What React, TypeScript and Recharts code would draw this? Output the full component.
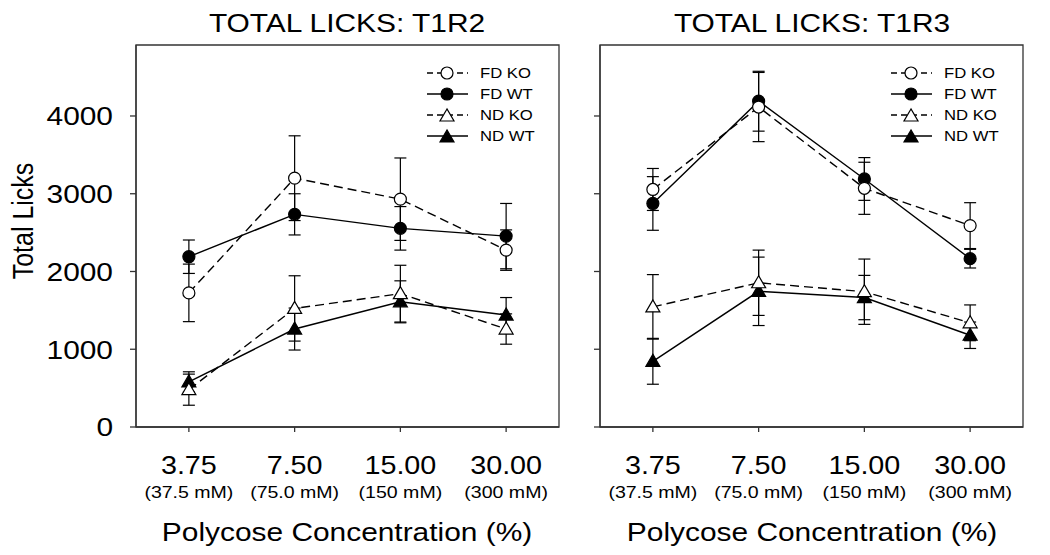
import React from 'react';
import { LineChart, Line, XAxis, YAxis, ErrorBar, ReferenceArea } from 'recharts';

// x categories (polycose %, with molarity underneath)
const CONCENTRATIONS = ['3.75', '7.50', '15.00', '30.00'];
const MOLARITY = ['(37.5 mM)', '(75.0 mM)', '(150 mM)', '(300 mM)'];
const Y_TICKS = [0, 1000, 2000, 3000, 4000];
const Y_MAX = 4913;

// T1R2 panel: means and SEM
const T1R2_FD_KO = [1725, 3200, 2930, 2275];
const T1R2_FD_KO_SEM = [370, 545, 530, 260];
const T1R2_FD_WT = [2190, 2735, 2555, 2455];
const T1R2_FD_WT_SEM = [215, 265, 280, 420];
const T1R2_ND_KO = [480, 1525, 1715, 1260];
const T1R2_ND_KO_SEM = [200, 420, 365, 195];
const T1R2_ND_WT = [580, 1260, 1610, 1440];
const T1R2_ND_WT_SEM = [130, 270, 270, 225];

// T1R3 panel
const T1R3_FD_KO = [3055, 4115, 3070, 2590];
const T1R3_FD_KO_SEM = [270, 445, 335, 295];
const T1R3_FD_WT = [2875, 4190, 3190, 2165];
const T1R3_FD_WT_SEM = [345, 385, 275, 120];
const T1R3_ND_KO = [1545, 1855, 1740, 1340];
const T1R3_ND_KO_SEM = [415, 420, 420, 230];
const T1R3_ND_WT = [845, 1745, 1665, 1180];
const T1R3_ND_WT_SEM = [295, 440, 285, 170];

const LEGEND = ['FD KO', 'FD WT', 'ND KO', 'ND WT'];

const FONT = '"Liberation Sans", Arial, sans-serif';
const SX = 1.15; // source figure is a bit stretched sideways
const AXIS = '#333';

function buildRows(fdKo: number[], fdKoE: number[], fdWt: number[], fdWtE: number[],
  ndKo: number[], ndKoE: number[], ndWt: number[], ndWtE: number[]) {
  return CONCENTRATIONS.map((_, i) => ({
    pos: i + 1,
    fdKo: fdKo[i], fdKoErr: fdKoE[i],
    fdWt: fdWt[i], fdWtErr: fdWtE[i],
    ndKo: ndKo[i], ndKoErr: ndKoE[i],
    ndWt: ndWt[i], ndWtErr: ndWtE[i],
  }));
}

const t1r2Rows = buildRows(T1R2_FD_KO, T1R2_FD_KO_SEM, T1R2_FD_WT, T1R2_FD_WT_SEM,
  T1R2_ND_KO, T1R2_ND_KO_SEM, T1R2_ND_WT, T1R2_ND_WT_SEM);
const t1r3Rows = buildRows(T1R3_FD_KO, T1R3_FD_KO_SEM, T1R3_FD_WT, T1R3_FD_WT_SEM,
  T1R3_ND_KO, T1R3_ND_KO_SEM, T1R3_ND_WT, T1R3_ND_WT_SEM);

function Circle({ cx, cy, fill }: any) {
  return <circle cx={cx} cy={cy} r={6} fill={fill} stroke="#000" strokeWidth={1.2} />;
}

function Triangle({ cx, cy, fill }: any) {
  const pts = `${cx},${cy - 7} ${cx - 7},${cy + 5} ${cx + 7},${cy + 5}`;
  return <polygon points={pts} fill={fill} stroke="#000" strokeWidth={1.2} />;
}

const circleDot = (fill: string) => (p: any) =>
  <Circle key={`c-${fill}-${p.index}`} cx={p.cx} cy={p.cy} fill={fill} />;
const triangleDot = (fill: string) => (p: any) =>
  <Triangle key={`t-${fill}-${p.index}`} cx={p.cx} cy={p.cy} fill={fill} />;

function XTick({ x, y, payload }: any) {
  const i = payload.value - 1;
  return (
    <g>
      <text transform={`translate(${x},${y + 42}) scale(${SX},1)`} textAnchor="middle"
        fontSize={25} fontFamily={FONT} fill="#000">{CONCENTRATIONS[i]}</text>
      <text transform={`translate(${x},${y + 66}) scale(${SX},1)`} textAnchor="middle"
        fontSize={17} fontFamily={FONT} fill="#000">{MOLARITY[i]}</text>
    </g>
  );
}

function YTick({ x, y, payload }: any) {
  return (
    <text transform={`translate(${x},${y}) scale(${SX},1)`} textAnchor="end" dy="0.36em"
      fontSize={26} fontFamily={FONT} fill="#000">{payload.value}</text>
  );
}

const NoTick = () => <g />;

function Panel({ left, width, yWidth, right, rows, labels }: any) {
  return (
    <div style={{ position: 'absolute', left, top: 0 }}>
      <LineChart width={width} height={555} data={rows}
        margin={{ top: 45, right, bottom: 0, left: 0 }}>
        <XAxis dataKey="pos" type="number" domain={[0.5, 4.5]} ticks={[1, 2, 3, 4]}
          height={128} tickSize={5} tickMargin={0} allowDataOverflow
          axisLine={{ stroke: AXIS, strokeWidth: 1.3 }} tickLine={{ stroke: AXIS, strokeWidth: 1.3 }}
          tick={<XTick />} />
        <YAxis type="number" domain={[0, Y_MAX]} ticks={Y_TICKS} width={yWidth}
          tickSize={6} tickMargin={17} allowDataOverflow
          axisLine={{ stroke: AXIS, strokeWidth: 1.3 }} tickLine={{ stroke: AXIS, strokeWidth: 1.3 }}
          tick={labels ? <YTick /> : <NoTick />} />
        <ReferenceArea x1={0.5} x2={4.5} y1={0} y2={Y_MAX} fill="none" fillOpacity={0}
          stroke={AXIS} strokeWidth={1.3} ifOverflow="visible" />
        <Line dataKey="ndWt" stroke="#000" strokeWidth={1.4} isAnimationActive={false}
          dot={triangleDot('#000')}>
          <ErrorBar dataKey="ndWtErr" direction="y" width={6} stroke="#000" strokeWidth={1.2} />
        </Line>
        <Line dataKey="ndKo" stroke="#000" strokeWidth={1.4} strokeDasharray="9 5"
          isAnimationActive={false} dot={triangleDot('#fff')}>
          <ErrorBar dataKey="ndKoErr" direction="y" width={6} stroke="#000" strokeWidth={1.2} />
        </Line>
        <Line dataKey="fdWt" stroke="#000" strokeWidth={1.4} isAnimationActive={false}
          dot={circleDot('#000')}>
          <ErrorBar dataKey="fdWtErr" direction="y" width={6} stroke="#000" strokeWidth={1.2} />
        </Line>
        <Line dataKey="fdKo" stroke="#000" strokeWidth={1.4} strokeDasharray="9 5"
          isAnimationActive={false} dot={circleDot('#fff')}>
          <ErrorBar dataKey="fdKoErr" direction="y" width={6} stroke="#000" strokeWidth={1.2} />
        </Line>
      </LineChart>
    </div>
  );
}

function LegendBlock({ x0 }: { x0: number }) {
  return (
    <g>
      {LEGEND.map((name, i) => {
        const cy = 73 + i * 21;
        const dashed = name.endsWith('KO');
        const fill = dashed ? '#fff' : '#000';
        const mx = x0 + 20;
        return (
          <g key={name}>
            <line x1={x0} x2={x0 + 41} y1={cy} y2={cy} stroke="#000" strokeWidth={1.4}
              strokeDasharray={dashed ? '6 4' : undefined} />
            {i < 2 ? <Circle cx={mx} cy={cy} fill={fill} /> : <Triangle cx={mx} cy={cy + 1} fill={fill} />}
            <text transform={`translate(${x0 + 53},${cy + 5}) scale(${SX},1)`} fontSize={14.5}
              fontFamily={FONT} fill="#000">{name}</text>
          </g>
        );
      })}
    </g>
  );
}

function Overlay() {
  const title = (x: number, s: string) => (
    <text transform={`translate(${x},32) scale(${SX},1)`} textAnchor="middle" fontSize={26}
      fontFamily={FONT} fill="#000">{s}</text>
  );
  const xTitle = (x: number) => (
    <text transform={`translate(${x},541) scale(${SX},1)`} textAnchor="middle" fontSize={26}
      fontFamily={FONT} fill="#000">Polycose Concentration (%)</text>
  );
  return (
    <svg width={1050} height={555} style={{ position: 'absolute', left: 0, top: 0, pointerEvents: 'none' }}>
      {title(347, 'TOTAL LICKS: T1R2')}
      {title(812, 'TOTAL LICKS: T1R3')}
      <text transform={`translate(33,221) rotate(-90) scale(1,${SX})`} textAnchor="middle" fontSize={25}
        fontFamily={FONT} fill="#000">Total Licks</text>
      {xTitle(347)}
      {xTitle(812)}
      <LegendBlock x0={427} />
      <LegendBlock x0={891} />
    </svg>
  );
}

export default function App() {
  return (
    <div style={{ position: 'absolute', left: 0, top: 0, width: 1050, height: 555, background: '#fff' }}>
      <Panel left={0} width={580} yWidth={136} right={21} rows={t1r2Rows} labels />
      <Panel left={560} width={490} yWidth={40} right={27} rows={t1r3Rows} labels={false} />
      <Overlay />
    </div>
  );
}
